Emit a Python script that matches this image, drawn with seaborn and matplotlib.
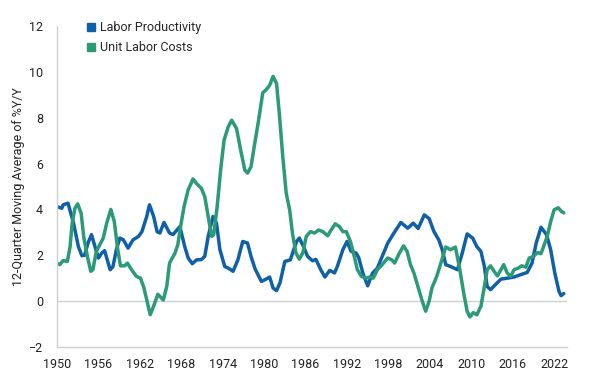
import matplotlib
matplotlib.use("Agg")
import matplotlib.pyplot as plt
from matplotlib.lines import Line2D
import numpy as np
import pandas as pd
import seaborn as sns

# values (year, %)
prod_years = [1950.0, 1950.7, 1950.9, 1951.6, 1952.4, 1953.1, 1953.6, 1954.0, 1954.5, 1955.0,
              1955.5, 1956.0, 1956.5, 1956.9, 1957.7, 1958.1, 1958.6, 1959.1, 1959.6, 1960.3,
              1961.0, 1961.8, 1962.3, 1963.0, 1963.4, 1964.0, 1964.5, 1964.9, 1965.5, 1966.3,
              1966.8, 1967.8, 1968.5, 1969.0, 1969.6, 1970.2, 1970.9, 1971.4, 1971.9, 1972.6,
              1973.1, 1973.6, 1974.3, 1974.8, 1975.5, 1976.2, 1976.9, 1977.6, 1978.1, 1978.7,
              1979.6, 1980.1, 1980.8, 1981.3, 1981.8, 1982.3, 1983.0, 1983.8, 1984.2, 1984.7,
              1985.1, 1985.7, 1986.3, 1987.0, 1987.5, 1988.2, 1988.8, 1989.5, 1990.2, 1990.6,
              1991.4, 1992.0, 1992.6, 1993.3, 1993.7, 1994.3, 1995.0, 1995.7, 1996.4, 1997.1,
              1997.9, 1998.8, 1999.8, 2000.8, 2001.6, 2002.3, 2003.2, 2003.9, 2004.6, 2005.3,
              2005.8, 2006.3, 2007.0, 2008.0, 2008.7, 2009.4, 2010.2, 2010.8, 2011.4, 2011.9,
              2012.3, 2012.8, 2013.5, 2014.3, 2015.2, 2016.2, 2017.1, 2018.1, 2018.8, 2019.4,
              2020.1, 2020.9, 2021.5, 2022.1, 2022.7, 2023.0, 2023.4]
prod_vals = [4.12, 4.05, 4.20, 4.27, 3.40, 2.38, 1.98, 2.00, 2.54, 2.90,
             2.38, 1.88, 2.10, 2.20, 1.37, 1.50, 2.24, 2.75, 2.68, 2.31,
             2.67, 2.82, 3.03, 3.69, 4.20, 3.69, 3.03, 2.97, 3.43, 2.97,
             2.90, 3.25, 2.38, 1.88, 1.63, 1.80, 1.81, 1.95, 2.82, 3.69,
             3.40, 2.24, 1.51, 1.44, 1.30, 1.80, 2.60, 2.53, 1.95, 1.40,
             0.86, 0.93, 1.05, 0.57, 0.46, 0.80, 1.73, 1.80, 2.17, 2.60,
             2.75, 2.38, 1.95, 1.76, 1.82, 1.37, 1.05, 1.34, 1.23, 1.51,
             2.24, 2.60, 2.17, 2.10, 1.90, 1.22, 0.67, 1.22, 1.44, 1.95,
             2.53, 2.97, 3.43, 3.18, 3.40, 3.17, 3.76, 3.60, 3.03, 2.67,
             2.24, 1.59, 1.51, 1.37, 2.10, 2.93, 2.75, 2.38, 2.17, 1.51,
             0.64, 0.50, 0.72, 0.96, 1.00, 1.05, 1.15, 1.25, 1.66, 2.53,
             3.22, 2.90, 2.24, 1.22, 0.43, 0.24, 0.33]

ulc_years = [1950.0, 1950.4, 1950.9, 1951.5, 1951.9, 1952.2, 1952.6, 1953.0, 1953.5, 1953.9,
             1954.4, 1954.9, 1955.2, 1955.7, 1956.2, 1956.7, 1957.2, 1957.8, 1958.3, 1958.8,
             1959.2, 1959.8, 1960.2, 1960.8, 1961.5, 1962.1, 1962.6, 1963.1, 1963.5, 1964.0,
             1964.6, 1965.4, 1965.9, 1966.3, 1967.1, 1967.5, 1967.9, 1968.4, 1969.0, 1969.7,
             1970.2, 1970.9, 1971.4, 1971.9, 1972.4, 1972.7, 1973.2, 1973.7, 1974.2, 1974.8,
             1975.3, 1976.0, 1976.6, 1977.2, 1977.6, 1978.1, 1978.6, 1979.2, 1979.8, 1980.3,
             1980.8, 1981.3, 1981.8, 1982.2, 1982.7, 1983.2, 1983.7, 1984.1, 1984.6, 1985.1,
             1985.6, 1986.1, 1986.7, 1987.3, 1987.9, 1988.5, 1989.2, 1989.7, 1990.3, 1990.9,
             1991.4, 1991.9, 1992.5, 1993.1, 1993.5, 1994.1, 1994.7, 1995.3, 1995.8, 1996.4,
             1997.1, 1997.9, 1998.5, 1998.9, 1999.6, 2000.2, 2000.7, 2001.2, 2001.7, 2002.4,
             2002.9, 2003.4, 2003.9, 2004.3, 2005.0, 2005.6, 2006.3, 2007.0, 2007.7, 2008.3,
             2008.9, 2009.4, 2009.8, 2010.3, 2010.8, 2011.4, 2011.9, 2012.3, 2012.8, 2013.3,
             2013.8, 2014.3, 2014.7, 2015.2, 2015.7, 2016.2, 2016.8, 2017.3, 2017.9, 2018.4,
             2019.0, 2019.6, 2020.1, 2020.5, 2021.0, 2021.5, 2022.0, 2022.6, 2023.1, 2023.4]
ulc_vals = [1.66, 1.59, 1.77, 1.73, 2.38, 3.40, 4.05, 4.24, 3.83, 2.75,
            1.95, 1.30, 1.37, 2.17, 2.46, 2.75, 3.40, 4.00, 3.47, 2.24,
            1.54, 1.54, 1.66, 1.37, 1.08, 1.00, 0.57, -0.08, -0.59, -0.22,
            0.30, 0.05, 0.64, 1.66, 2.10, 2.46, 3.25, 4.12, 4.85, 5.33,
            5.13, 4.92, 4.56, 3.69, 2.82, 2.90, 4.12, 5.72, 7.02, 7.60,
            7.89, 7.53, 6.59, 5.72, 5.58, 5.86, 6.80, 7.89, 9.08, 9.22,
            9.41, 9.80, 9.49, 8.18, 6.30, 4.70, 3.98, 2.97, 2.10, 1.83,
            2.10, 2.82, 3.03, 2.97, 3.10, 3.03, 2.85, 3.10, 3.37, 3.25,
            3.03, 3.03, 2.60, 1.90, 1.37, 1.08, 1.00, 1.05, 1.00, 1.37,
            1.59, 1.88, 1.80, 1.66, 2.10, 2.41, 2.17, 1.59, 1.22, 0.50,
            0.00, -0.44, 0.00, 0.57, 1.08, 1.66, 2.36, 2.24, 2.36, 1.45,
            0.36, -0.44, -0.69, -0.50, -0.60, -0.22, 0.64, 1.37, 1.54, 1.30,
            1.10, 1.37, 1.59, 1.23, 1.08, 1.37, 1.44, 1.54, 1.48, 1.88,
            1.95, 2.12, 2.07, 2.40, 2.82, 3.47, 3.98, 4.07, 3.90, 3.85]

labels = ["Labor Productivity", "Unit Labor Costs"]
colors = ["#1060a8", "#2a9a77"]
xticks = list(range(1950, 2023, 6))
yticks = list(range(-2, 13, 2))

df = pd.concat([
    pd.DataFrame({"year": prod_years, "value": prod_vals, "series": labels[0]}),
    pd.DataFrame({"year": ulc_years, "value": ulc_vals, "series": labels[1]}),
])

sns.set_style("white")
plt.rcParams["font.family"] = ["Roboto", "DejaVu Sans"]

fig = plt.figure(figsize=(5.96, 3.85), dpi=100)
ax = fig.add_axes([0.0956, 0.0987, 0.855, 0.834])
sns.lineplot(data=df, x="year", y="value", hue="series", palette=colors,
             hue_order=labels, linewidth=2.5, ax=ax, legend=False, sort=False,
             solid_joinstyle="round", solid_capstyle="round")

grey = "#d0d0d0"
ax.axhline(0, color=grey, lw=1, zorder=0)
ax.set_xlim(1950, 2023.8)
ax.set_ylim(-2, 12)
ax.set_xticks(xticks)
ax.set_yticks(yticks)
ax.tick_params(axis="y", direction="in", length=9.5, color=grey, width=1,
               labelsize=9, pad=10, labelcolor="#222222")
ax.tick_params(axis="x", length=0, labelsize=9, pad=8, labelcolor="#222222")
for side in ["top", "right"]:
    ax.spines[side].set_visible(False)
for side in ["left", "bottom"]:
    ax.spines[side].set_color(grey)
    ax.spines[side].set_linewidth(1)
ax.set_xlabel("")
ax.set_ylabel("12-Quarter Moving Average of %Y/Y", fontsize=9, color="#222222", labelpad=3)

handles = [Line2D([], [], marker="s", linestyle="none", color=c, markersize=6) for c in colors]
ax.legend(handles, labels, loc="upper left", bbox_to_anchor=(0.03, 1.05), frameon=False,
          fontsize=9, handletextpad=0.1, labelspacing=0.55, handlelength=1.2)

fig.savefig("out.png", dpi=100)
